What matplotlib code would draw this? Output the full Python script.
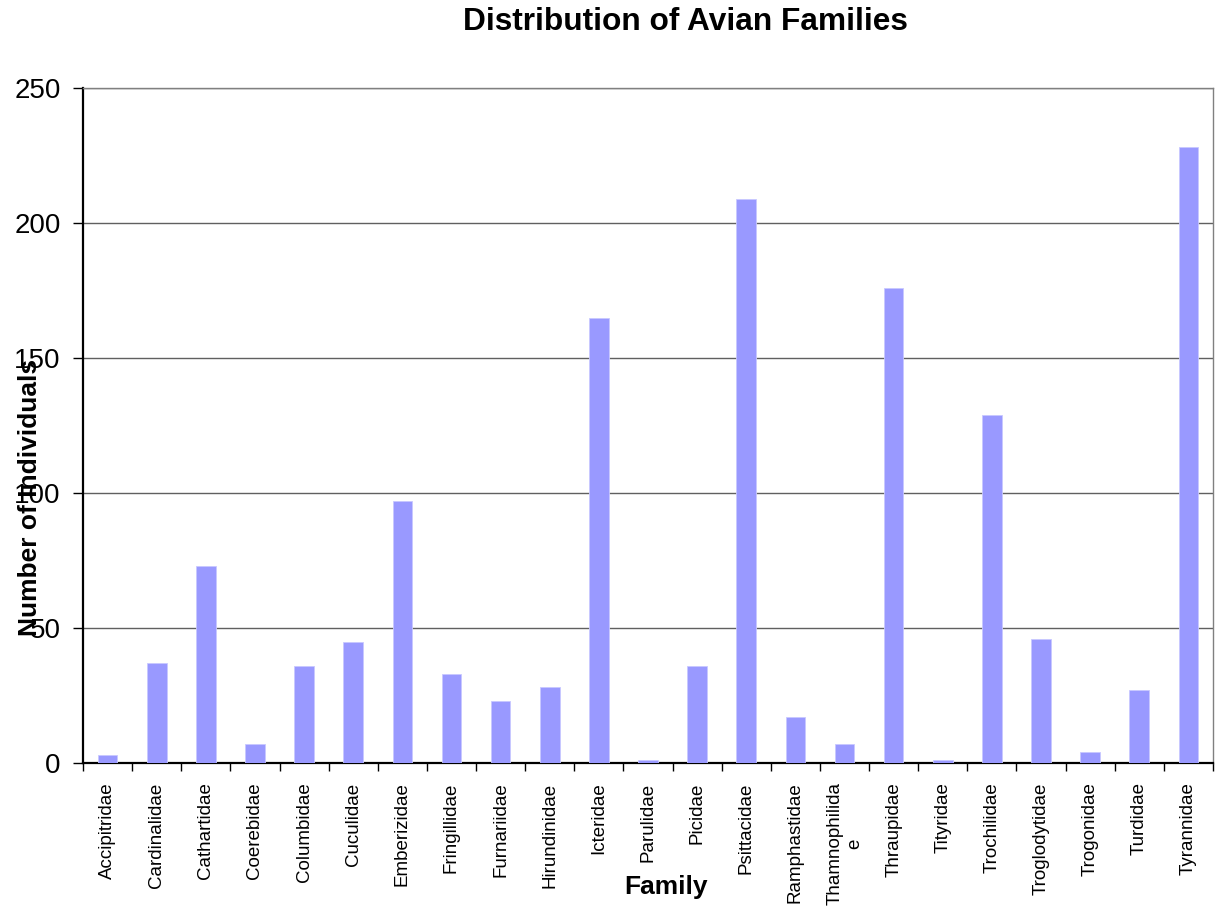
import matplotlib
matplotlib.use("Agg")
import matplotlib.pyplot as plt
import numpy as np

plt.rcParams['font.family'] = ['Liberation Sans', 'DejaVu Sans']

families = ["Accipitridae", "Cardinalidae", "Cathartidae", "Coerebidae", "Columbidae",
            "Cuculidae", "Emberizidae", "Fringillidae", "Furnariidae", "Hirundinidae",
            "Icteridae", "Parulidae", "Picidae", "Psittacidae", "Ramphastidae",
            "Thamnophilida\ne", "Thraupidae", "Tityridae", "Trochilidae", "Troglodytidae",
            "Trogonidae", "Turdidae", "Tyrannidae"]
counts = [3, 37, 73, 7, 36, 45, 97, 33, 23, 28, 165, 1, 36, 209, 17, 7, 176, 1, 129, 46, 4, 27, 228]
yticks = [0, 50, 100, 150, 200, 250]

W, H = 1218, 908
fig = plt.figure(figsize=(W / 100, H / 100), dpi=100)
ax = fig.add_axes([83 / W, 1 - 763 / H, (1213 - 83) / W, (763 - 88) / H])

x = np.arange(len(families))
ax.bar(x, counts, width=0.4, color='#9999FF', edgecolor='#C8C8FF', linewidth=0.6, zorder=3)

ax.set_xlim(-0.5, len(families) - 0.5)
ax.set_ylim(0, 250)
ax.set_yticks(yticks)
ax.set_yticklabels([str(v) for v in yticks], fontsize=20)
ax.yaxis.grid(True, color='#606060', linewidth=1.0, zorder=0)

ax.set_xticks(x)
ax.set_xticklabels(families, rotation=90, fontsize=13.5, ha='center', va='top',
                   multialignment='center')
ax.tick_params(axis='x', which='major', length=0, pad=14)
ax.set_xticks(np.arange(len(families) + 1) - 0.5, minor=True)
ax.tick_params(axis='x', which='minor', length=6, width=1, color='black', direction='out')
ax.tick_params(axis='y', which='major', length=7, width=1, pad=9, direction='out')

for s in ['left', 'bottom']:
    ax.spines[s].set_color('black')
    ax.spines[s].set_linewidth(1.6)
for s in ['top', 'right']:
    ax.spines[s].set_color('#808080')
    ax.spines[s].set_linewidth(1.0)

fig.text(685 / W, 1 - 22 / H, "Distribution of Avian Families", fontsize=22.8,
         fontweight='bold', ha='center', va='center')
fig.text(666 / W, 1 - 887 / H, "Family", fontsize=19, fontweight='bold',
         ha='center', va='center')
fig.text(30 / W, 1 - 497 / H, "Number of Individuals", fontsize=19, fontweight='bold',
         rotation=90, ha='center', va='center')

fig.savefig("out.png", dpi=100)
